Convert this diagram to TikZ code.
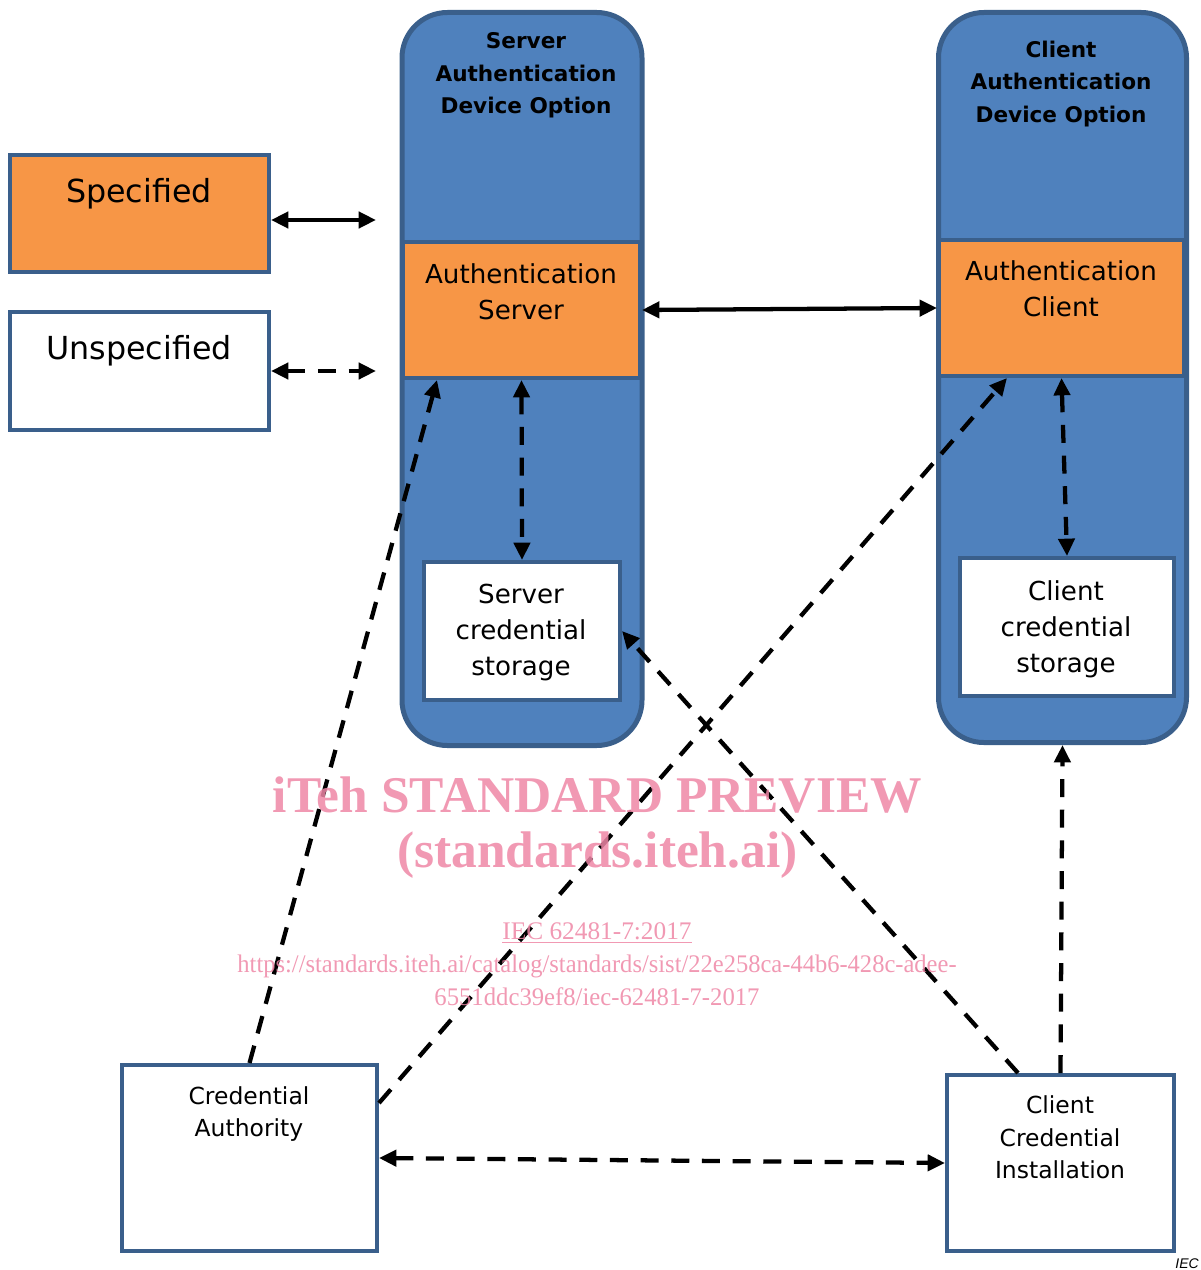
\documentclass[tikz,border=0pt]{standalone}
\usepackage{fontspec}
\usepackage{graphicx}
\setmainfont{DejaVu Sans}
\newfontfamily\wmfont{Liberation Serif}
\newfontfamily\iecfont{Liberation Sans}
\usetikzlibrary{arrows.meta,calc}
\definecolor{colfill}{HTML}{4F81BD}
\definecolor{colline}{HTML}{3A5F8B}
\definecolor{orng}{HTML}{F79646}
\definecolor{wmpink}{RGB}{238,135,166}
\begin{document}
\begin{tikzpicture}[x=0.75pt,y=-0.75pt,
  column/.style={draw=colline, line width=3.75pt, fill=colfill, rounded corners=34pt, inner sep=0pt},
  obox/.style={draw=colline, line width=3pt, fill=orng, inner sep=0pt},
  wbox/.style={draw=colline, line width=3pt, fill=white, inner sep=0pt},
  title/.style={align=center, inner sep=0pt, font=\bfseries\fontsize{16.2}{24.4}\selectfont},
  lbl/.style={align=center, inner sep=0pt, font=\fontsize{19.6}{27}\selectfont},
  slbl/.style={align=center, inner sep=0pt, font=\fontsize{17.6}{24.2}\selectfont},
  big/.style={inner sep=0pt, font=\fontsize{23.8}{27}\selectfont},
  tipk/.tip={Triangle[length=13pt,width=12pt]},
  conn/.style={line width=3.2pt, tipk-tipk},
  dconn/.style={conn, dash pattern=on 13.5pt off 9.5pt},
  oconn/.style={line width=3.2pt, -tipk, dash pattern=on 13.5pt off 9.5pt},
  wm/.style={inner sep=0pt, text=wmpink, text opacity=0.85}
]
\useasboundingbox (0,0) rectangle (1200,1270);

% columns
\node[column, minimum width=240*0.75pt, minimum height=733*0.75pt] (scol) at (522,379) {};
\node[column, minimum width=248*0.75pt, minimum height=730*0.75pt] (ccol) at (1062.5,377.5) {};
\node[title] (stitle) at (526,75.5) {Server\\Authentication\\Device Option};
\node[title] (ctitle) at (1061,84) {Client\\Authentication\\Device Option};

% inner boxes
\node[obox, minimum width=237*0.75pt, minimum height=136*0.75pt] (as) at (521.5,310) {};
\node[lbl] (ast) at (521,292) {Authentication\\Server};
\node[wbox, minimum width=196*0.75pt, minimum height=138*0.75pt] (scs) at (522,631) {};
\node[lbl] (scst) at (521,633) {Server\\credential\\storage};
\node[obox, minimum width=245*0.75pt, minimum height=136*0.75pt] (ac) at (1061.5,308) {};
\node[lbl] (act) at (1061,288.5) {Authentication\\Client};
\node[wbox, minimum width=214*0.75pt, minimum height=138*0.75pt] (ccs) at (1067,627) {};
\node[lbl] (ccst) at (1066,629) {Client\\credential\\storage};

% legend
\node[obox, minimum width=259*0.75pt, minimum height=117*0.75pt] (spec) at (139.5,213.5) {};
\node[big] (spect) at (139,194) {Specified};
\node[wbox, minimum width=259*0.75pt, minimum height=118*0.75pt] (unspec) at (139.5,371) {};
\node[big] (unspect) at (139,351) {Unspecified};

% bottom boxes
\node[wbox, minimum width=255*0.75pt, minimum height=186*0.75pt] (ca) at (249.5,1158) {};
\node[slbl] (cat) at (249,1114) {Credential\\Authority};
\node[wbox, minimum width=227*0.75pt, minimum height=176*0.75pt] (cci) at (1060.5,1163) {};
\node[slbl] (ccit) at (1060,1137.5) {Client\\Credential\\Installation};

% connectors
\coordinate (sE) at (376,220);
\coordinate (uE) at (376,371);
\draw[conn] (spec.east |- sE) -- (sE);
\draw[dconn] (unspec.east) -- (uE);
\draw[conn] (as.east) -- (ac.west);
\draw[dconn] (as.south) -- (scs.north);
\draw[dconn] (ac.south) -- (ccs.north);
\draw[oconn] (ca.north) -- ($(as.south west)+(36,0)$);
\draw[oconn] ($(ca.north east)+(0,40)$) -- ($(ac.south west)+(70,0)$);
\draw[oconn] ($(cci.north west)+(73,0)$) -- (scs.east);
\draw[oconn] (cci.north) -- (ccol.south);
\draw[dconn] (ca.east) -- (cci.west);

% watermark
\node[wm, font=\wmfont\bfseries\fontsize{38.6}{40}\selectfont] (wm1) at (597.5,795) {iTeh STANDARD PREVIEW};
\node[wm, font=\wmfont\bfseries\fontsize{38.6}{40}\selectfont] (wm2) at (597.5,855) {(standards.iteh.ai)};
\node[wm, font=\wmfont\fontsize{19}{22}\selectfont] (wm3) at (597,933) {\underline{IEC 62481-7:2017}};
\node[wm, font=\wmfont\fontsize{19}{22}\selectfont] (wm4) at (597,966) {\scalebox{0.968}[1]{https://standards.iteh.ai/catalog/standards/sist/22e258ca-44b6-428c-adee-}};
\node[wm, font=\wmfont\fontsize{19}{22}\selectfont] (wm5) at (597,997) {\scalebox{0.975}[1]{6551ddc39ef8/iec-62481-7-2017}};

\node[anchor=south east, inner sep=0pt, font=\iecfont\itshape\fontsize{10.5}{12}\selectfont] (iec) at (1199,1269) {IEC};
\end{tikzpicture}
\end{document}
